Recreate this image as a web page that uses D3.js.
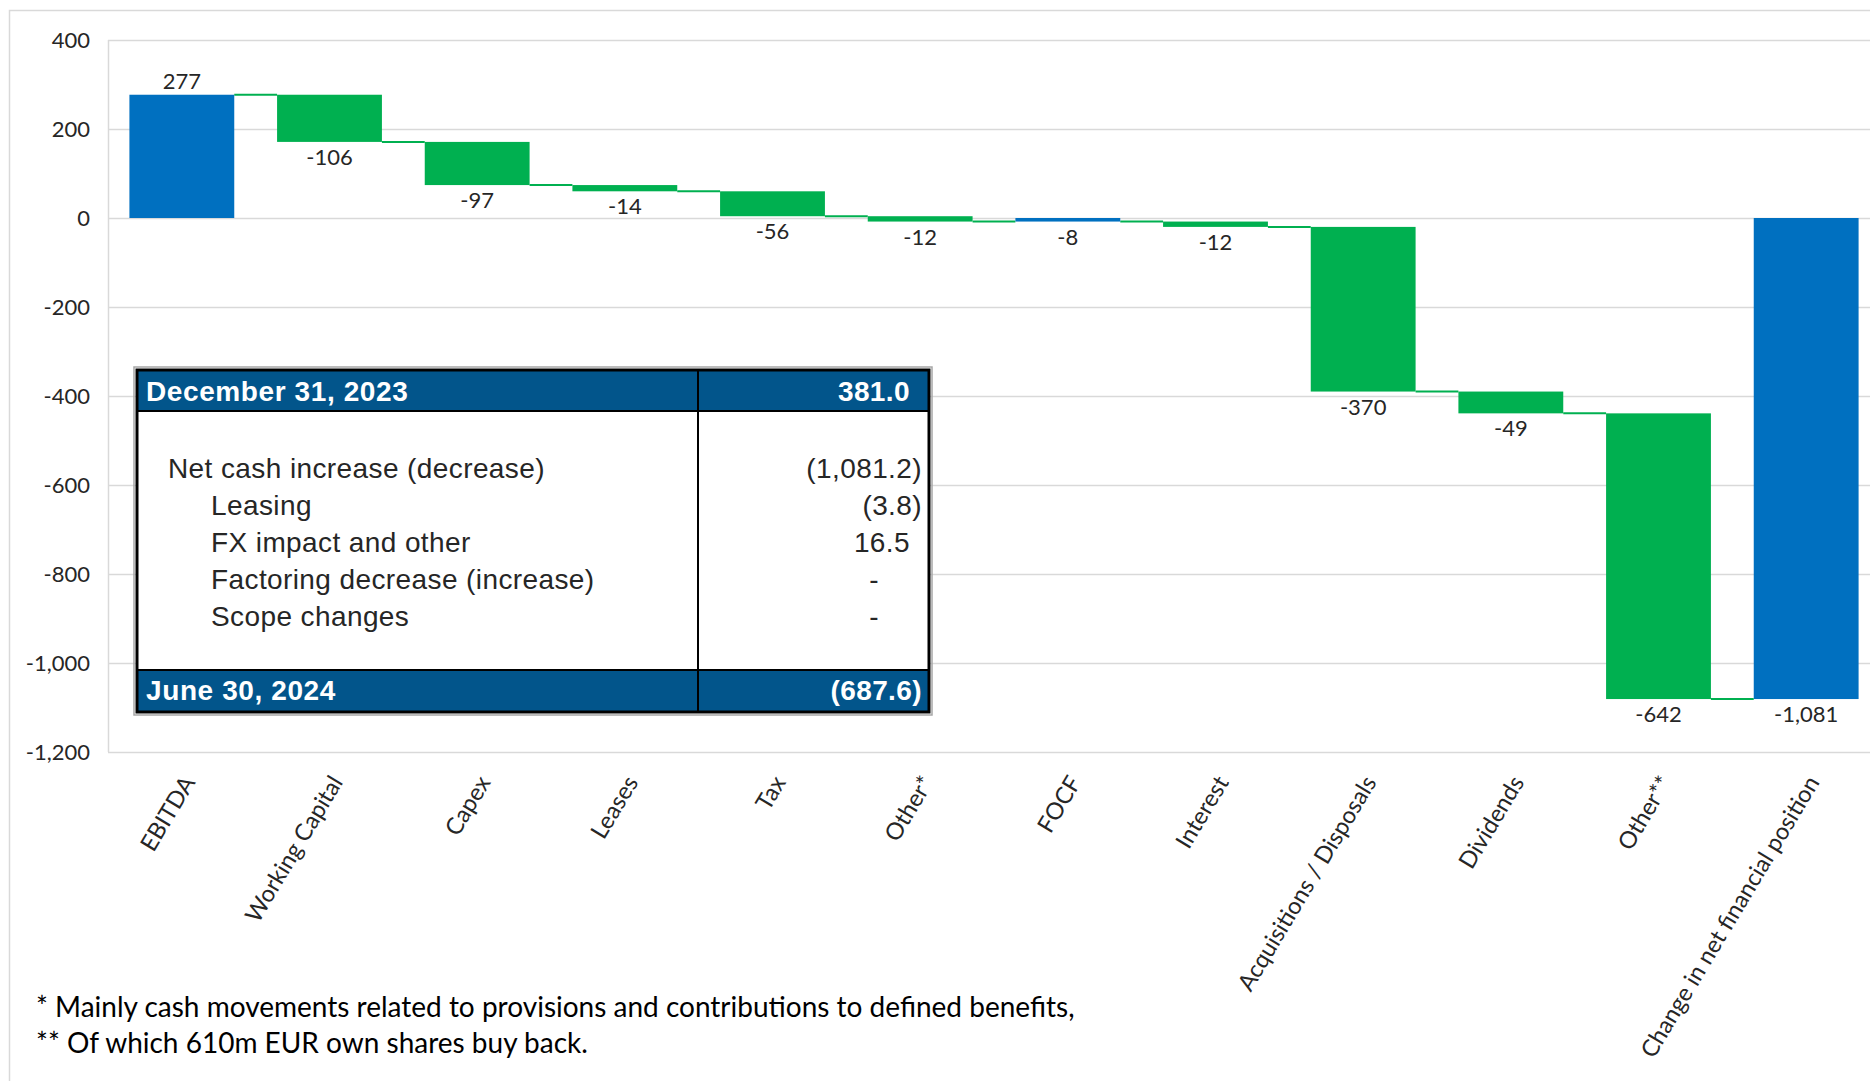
<!DOCTYPE html>
<html>
<head>
<meta charset="utf-8">
<script src="https://cdn.jsdelivr.net/npm/d3@7"></script>
<style>
  body { margin: 0; background: #fff; }
  svg { display: block; }
</style>
</head>
<body>
<div id="chart"></div>
<script>
// waterfall data
const categories = ["EBITDA", "Working Capital", "Capex", "Leases", "Tax", "Other*", "FOCF",
  "Interest", "Acquisitions / Disposals", "Dividends", "Other**", "Change in net financial position"];
const values = [277, -106, -97, -14, -56, -12, -8, -12, -370, -49, -642, -1081];
const kinds = ["total", "delta", "delta", "delta", "delta", "delta", "total",
  "delta", "delta", "delta", "delta", "total"];
const yTicks = [400, 200, 0, -200, -400, -600, -800, -1000, -1200];

// table inset
const tableHeader = ["December 31, 2023", 381.0];
const tableRows = ["Net cash increase (decrease)", "Leasing", "FX impact and other",
  "Factoring decrease (increase)", "Scope changes"];
const tableValues = [-1081.2, -3.8, 16.5, 0, 0];
const tableIndent = [0, 1, 1, 1, 1];
const tableFooter = ["June 30, 2024", -687.6];

const notes = ["* Mainly cash movements related to provisions and contributions to defined benefits,",
  "** Of which 610m EUR own shares buy back."];

const W = 1870, H = 1081;
const blue = "#0070c0", green = "#00b050", grid = "#d9d9d9", ink = "#262626";
const chartFont = "Lato, 'Open Sans', sans-serif";
const tableFont = "'Liberation Sans', Arial, sans-serif";

// plain hyphen for negatives, like the original
const loc = d3.formatLocale({ decimal: ".", thousands: ",", grouping: [3], currency: ["", ""], minus: "-" });
const intFmt = loc.format(",");
const fmt = loc.format(",.1f");

const svg = d3.select("#chart").append("svg")
  .attr("width", W).attr("height", H)
  .attr("viewBox", `0 0 ${W} ${H}`);

// chart area border
svg.append("path")
  .attr("d", `M9.5,${H} V10.5 H${W}`)
  .attr("fill", "none").attr("stroke", grid).attr("stroke-width", 1.5);

const x = d3.scaleBand().domain(categories).range([108, 1880]).paddingInner(0.29).paddingOuter(0.145);
const y = d3.scaleLinear().domain([-1200, 400]).range([752, 40]);

// gridlines
svg.append("g").selectAll("line").data(yTicks).enter().append("line")
  .attr("x1", 108).attr("x2", W)
  .attr("y1", d => Math.round(y(d)) + 0.5).attr("y2", d => Math.round(y(d)) + 0.5)
  .attr("stroke", grid).attr("stroke-width", 1.5);
svg.append("line")
  .attr("x1", 108.5).attr("x2", 108.5).attr("y1", y(400)).attr("y2", y(-1200))
  .attr("stroke", grid).attr("stroke-width", 1.5);

// y axis labels
const yAxis = svg.append("g")
  .attr("transform", "translate(90,0)")
  .call(d3.axisLeft(y).tickValues(yTicks).tickSize(0).tickPadding(0).tickFormat(intFmt));
yAxis.select(".domain").remove();
yAxis.selectAll("text")
  .attr("font-family", chartFont).attr("font-size", 22).attr("fill", ink);

// running totals
let run = 0;
const bars = values.map((v, i) => {
  let start, end;
  if (kinds[i] === "total") { start = 0; end = v; }
  else { start = run; end = run + v; }
  run = end;
  return { cat: categories[i], v, kind: kinds[i], start, end };
});

// connectors
const conn = svg.append("g");
bars.slice(0, -1).forEach((b, i) => {
  conn.append("line")
    .attr("x1", x(b.cat) + x.bandwidth())
    .attr("x2", x(bars[i + 1].cat))
    .attr("y1", y(b.end)).attr("y2", y(b.end))
    .attr("stroke", green).attr("stroke-width", 2);
});

// bars
svg.append("g").selectAll("rect").data(bars).enter().append("rect")
  .attr("x", d => x(d.cat))
  .attr("width", x.bandwidth())
  .attr("y", d => y(Math.max(d.start, d.end)))
  .attr("height", d => Math.max(1, Math.abs(y(d.start) - y(d.end))))
  .attr("fill", d => d.kind === "total" ? blue : green);

// value labels
svg.append("g").selectAll("text").data(bars).enter().append("text")
  .attr("x", d => x(d.cat) + x.bandwidth() / 2)
  .attr("y", d => d.v >= 0 ? y(Math.max(d.start, d.end)) - 6 : y(Math.min(d.start, d.end)) + 23)
  .attr("text-anchor", "middle")
  .attr("font-family", chartFont).attr("font-size", 22).attr("fill", ink)
  .text(d => intFmt(d.v));

// category labels
svg.append("g").selectAll("text").data(categories).enter().append("text")
  .attr("transform", d => `translate(${x(d) + x.bandwidth() / 2 + 7},778) rotate(-59)`)
  .attr("text-anchor", "end").attr("dy", "0.35em")
  .attr("font-family", chartFont).attr("font-size", 23.5).attr("fill", ink)
  .text(d => d);

// footnotes
svg.append("g").selectAll("text").data(notes).enter().append("text")
  .attr("x", 36).attr("y", (d, i) => 1017 + i * 36)
  .attr("font-family", chartFont).attr("font-size", 28).attr("fill", "#000")
  .text(d => d);

// ---- table inset ----
const T = { x0: 137, x1: 929, y0: 370, y1: 712, split: 698, headB: 411, footT: 670 };
const tb = svg.append("g");

tb.append("rect")
  .attr("x", T.x0 - 3).attr("y", T.y0 - 3)
  .attr("width", T.x1 - T.x0 + 6).attr("height", T.y1 - T.y0 + 6)
  .attr("fill", "none").attr("stroke", "#a6a6a6").attr("stroke-width", 1.5);
tb.append("rect")
  .attr("x", T.x0).attr("y", T.y0).attr("width", T.x1 - T.x0).attr("height", T.y1 - T.y0)
  .attr("fill", "#fff");
tb.append("rect")
  .attr("x", T.x0).attr("y", T.y0).attr("width", T.x1 - T.x0).attr("height", T.headB - T.y0)
  .attr("fill", "#02558b");
tb.append("rect")
  .attr("x", T.x0).attr("y", T.footT).attr("width", T.x1 - T.x0).attr("height", T.y1 - T.footT)
  .attr("fill", "#02558b");
[T.headB, T.footT].forEach(yy => tb.append("line")
  .attr("x1", T.x0).attr("x2", T.x1).attr("y1", yy).attr("y2", yy)
  .attr("stroke", "#000").attr("stroke-width", 2));
tb.append("line")
  .attr("x1", T.split).attr("x2", T.split).attr("y1", T.y0).attr("y2", T.y1)
  .attr("stroke", "#000").attr("stroke-width", 2);
tb.append("rect")
  .attr("x", T.x0).attr("y", T.y0).attr("width", T.x1 - T.x0).attr("height", T.y1 - T.y0)
  .attr("fill", "none").attr("stroke", "#000").attr("stroke-width", 3);

// accounting style number
function acct(g, v, yy, fill, weight) {
  let xx = 922, anchor = "end", s;
  if (v === 0) { s = "-"; xx = 874; anchor = "middle"; }
  else if (v < 0) s = `(${fmt(-v)})`;
  else { s = fmt(v); xx = 910; }
  g.append("text").attr("x", xx).attr("y", yy).attr("text-anchor", anchor)
    .attr("font-family", tableFont).attr("font-size", 28).attr("font-weight", weight)
    .attr("letter-spacing", 0.4).attr("fill", fill).text(s);
}

tb.append("text").attr("x", 146).attr("y", 401)
  .attr("font-family", tableFont).attr("font-size", 28).attr("font-weight", "bold")
  .attr("letter-spacing", 0.6).attr("fill", "#fff").text(tableHeader[0]);
acct(tb, tableHeader[1], 401, "#fff", "bold");

tableRows.forEach((r, i) => {
  const yy = 478 + i * 37;
  tb.append("text").attr("x", tableIndent[i] ? 211 : 168).attr("y", yy)
    .attr("font-family", tableFont).attr("font-size", 28)
    .attr("letter-spacing", 0.4).attr("fill", ink).text(r);
  acct(tb, tableValues[i], yy, ink, "normal");
});

tb.append("text").attr("x", 146).attr("y", 700)
  .attr("font-family", tableFont).attr("font-size", 28).attr("font-weight", "bold")
  .attr("letter-spacing", 0.6).attr("fill", "#fff").text(tableFooter[0]);
acct(tb, tableFooter[1], 700, "#fff", "bold");
</script>
</body>
</html>
